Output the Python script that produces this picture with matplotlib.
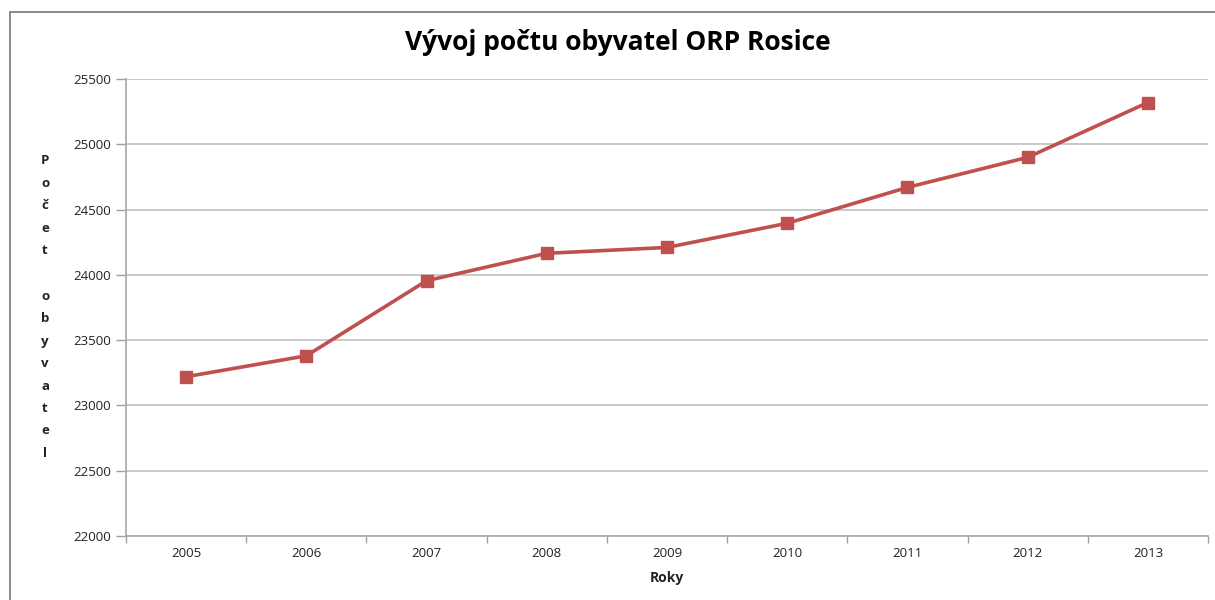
import matplotlib
matplotlib.use("Agg")
import matplotlib.pyplot as plt
from matplotlib.lines import Line2D
import numpy as np

years = ["2005", "2006", "2007", "2008", "2009", "2010", "2011", "2012", "2013"]
population = [23220, 23380, 23955, 24165, 24210, 24395, 24670, 24900, 25320]
y_ticks = [22000, 22500, 23000, 23500, 24000, 24500, 25000, 25500]
title = "Vývoj počtu obyvatel ORP Rosice"
x_label = "Roky"
y_label = "Počet obyvatel"

plt.rcParams['font.family'] = ['Open Sans', 'DejaVu Sans']

fig = plt.figure(figsize=(12.15, 6.0), dpi=100)
W, H = 1215, 600
ax = fig.add_axes([126 / W, 1 - 536 / H, (1208 - 126) / W, (536 - 79) / H])

x = np.arange(len(years))
ax.plot(x, population, color='#C0504D', linewidth=2.6, marker='s', markersize=8.5,
        markerfacecolor='#C0504D', markeredgecolor='#C0504D', zorder=3)

ax.set_xlim(-0.5, len(years) - 0.5)
ax.set_ylim(22000, 25500)
ax.set_yticks(y_ticks)
ax.set_yticklabels([str(v) for v in y_ticks], fontsize=9.5, color='#222222')
ax.set_xticks(x)
ax.set_xticklabels(years, fontsize=9.5, color='#222222')
ax.set_xticks(np.arange(-0.5, len(years), 1.0), minor=True)

ax.tick_params(axis='x', which='major', length=0, pad=8)
ax.tick_params(axis='x', which='minor', length=5, color='#A0A0A0', width=1)
ax.tick_params(axis='y', which='major', length=7, color='#A0A0A0', width=1, pad=4)

ax.yaxis.grid(True, color='#C0C0C0', linewidth=1.2)
ax.set_axisbelow(True)
for s in ['top', 'right']:
    ax.spines[s].set_visible(False)
for s in ['left', 'bottom']:
    ax.spines[s].set_color('#A8A8A8')
    ax.spines[s].set_linewidth(1.2)

fig.text(618 / W, 1 - 43 / H, title, ha='center', va='center', fontsize=19, fontweight='bold')
fig.text(667 / W, 1 - 578 / H, x_label, ha='center', va='center', fontsize=10, fontweight='bold',
         color='#222222')

# vertically stacked y label letters
letters = list(y_label)
y0, step = 161, 22.5
for i, ch in enumerate(letters):
    if ch == ' ':
        continue
    fig.text(45 / W, 1 - (y0 + i * step) / H, ch, ha='center', va='center', fontsize=9.5,
             fontweight='bold', color='#222222')

# outer chart frame
fig.add_artist(Line2D([10 / W, 10 / W], [0, 1 - 12 / H], color='#808080', linewidth=1.3,
                      transform=fig.transFigure))
fig.add_artist(Line2D([10 / W, 1], [1 - 12 / H, 1 - 12 / H], color='#808080', linewidth=1.3,
                      transform=fig.transFigure))

fig.savefig("out.png", dpi=100)
